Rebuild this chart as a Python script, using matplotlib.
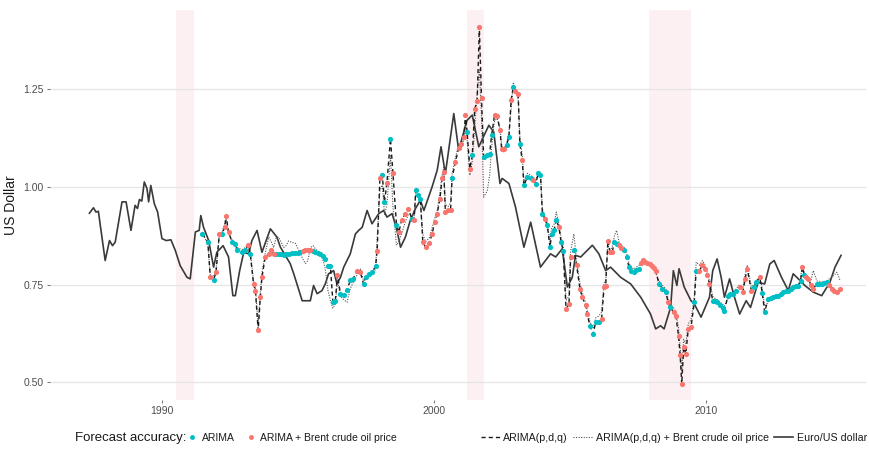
import numpy as np
import matplotlib.pyplot as plt
from matplotlib.lines import Line2D

plt.rcParams['font.family'] = ['Liberation Sans', 'DejaVu Sans']

# Euro/US dollar exchange rate (decimal year, USD)
euro_year = [1987.32, 1987.47, 1987.56, 1987.65, 1987.90, 1988.06, 1988.17, 1988.27, 1988.52, 1988.67,
             1988.85, 1989.00, 1989.09, 1989.16, 1989.25, 1989.34, 1989.44, 1989.50, 1989.58, 1989.71,
             1989.83, 1989.99, 1990.15, 1990.32, 1990.48, 1990.66, 1990.91, 1991.03, 1991.22, 1991.36,
             1991.42, 1991.52, 1991.71, 1991.89, 1992.01, 1992.24, 1992.44, 1992.60, 1992.69, 1992.85,
             1993.00, 1993.18, 1993.30, 1993.49, 1993.67, 1993.98, 1994.22, 1994.35, 1994.71, 1994.84,
             1995.15, 1995.45, 1995.57, 1995.70, 1995.88, 1996.00, 1996.12, 1996.31, 1996.43, 1996.56,
             1996.68, 1996.92, 1997.11, 1997.23, 1997.36, 1997.54, 1997.72, 1997.97, 1998.15, 1998.27,
             1998.46, 1998.64, 1998.77, 1998.95, 1999.13, 1999.32, 1999.50, 1999.63, 1999.93, 2000.12,
             2000.26, 2000.42, 2000.73, 2000.91, 2001.22, 2001.41, 2001.65, 2002.02, 2002.20, 2002.43,
             2002.51, 2002.76, 2003.00, 2003.31, 2003.56, 2003.92, 2004.29, 2004.48, 2004.72, 2004.91,
             2005.09, 2005.21, 2005.40, 2005.83, 2006.07, 2006.32, 2006.50, 2006.87, 2007.24, 2007.61,
             2007.97, 2008.16, 2008.34, 2008.47, 2008.71, 2008.81, 2008.94, 2009.02, 2009.21, 2009.46,
             2009.58, 2009.83, 2010.14, 2010.26, 2010.42, 2010.57, 2010.69, 2010.88, 2011.06, 2011.25,
             2011.49, 2011.65, 2011.93, 2012.17, 2012.36, 2012.52, 2012.79, 2013.04, 2013.22, 2013.41,
             2013.65, 2013.96, 2014.27, 2014.57, 2014.76, 2014.98]
euro_usd = [0.933, 0.947, 0.936, 0.938, 0.812, 0.863, 0.850, 0.859, 0.962, 0.962,
            0.889, 0.953, 0.945, 0.968, 0.964, 1.013, 0.996, 0.962, 1.004, 0.957,
            0.936, 0.868, 0.863, 0.865, 0.838, 0.799, 0.769, 0.765, 0.885, 0.889,
            0.927, 0.897, 0.863, 0.795, 0.833, 0.850, 0.821, 0.722, 0.722, 0.786,
            0.833, 0.829, 0.863, 0.889, 0.833, 0.893, 0.872, 0.846, 0.804, 0.778,
            0.709, 0.709, 0.748, 0.727, 0.735, 0.752, 0.778, 0.786, 0.752, 0.769,
            0.795, 0.829, 0.880, 0.889, 0.897, 0.940, 0.906, 0.932, 0.940, 0.923,
            0.932, 0.889, 0.846, 0.872, 0.915, 0.945, 0.966, 0.940, 1.000, 1.043,
            1.103, 1.034, 1.188, 1.094, 1.171, 1.184, 1.103, 1.158, 1.141, 1.009,
            1.022, 1.009, 0.949, 0.846, 0.910, 0.795, 0.829, 0.821, 0.842, 0.744,
            0.769, 0.825, 0.821, 0.851, 0.829, 0.786, 0.795, 0.769, 0.752, 0.718,
            0.675, 0.637, 0.645, 0.637, 0.692, 0.786, 0.748, 0.791, 0.744, 0.709,
            0.701, 0.667, 0.718, 0.786, 0.816, 0.769, 0.718, 0.765, 0.718, 0.675,
            0.709, 0.692, 0.756, 0.752, 0.803, 0.812, 0.769, 0.735, 0.778, 0.765,
            0.748, 0.731, 0.722, 0.756, 0.795, 0.825]

# forecasts: dates, ARIMA(p,d,q), ARIMA(p,d,q) + Brent, and which model was more accurate
fc_year = [1991.48, 1991.68, 1991.77, 1991.89, 1991.98, 1992.10, 1992.20, 1992.30, 1992.35, 1992.44,
           1992.57, 1992.69, 1992.75, 1992.94, 1993.06, 1993.16, 1993.24, 1993.36, 1993.43, 1993.53,
           1993.61, 1993.67, 1993.79, 1993.92, 1994.01, 1994.10, 1994.19, 1994.28, 1994.37, 1994.47,
           1994.56, 1994.65, 1994.78, 1994.90, 1995.00, 1995.08, 1995.18, 1995.27, 1995.36, 1995.45,
           1995.55, 1995.64, 1995.73, 1995.82, 1995.91, 1996.00, 1996.10, 1996.19, 1996.28, 1996.37,
           1996.45, 1996.56, 1996.68, 1996.80, 1996.92, 1997.02, 1997.17, 1997.29, 1997.41, 1997.50,
           1997.60, 1997.72, 1997.85, 1997.91, 1998.01, 1998.10, 1998.18, 1998.27, 1998.40, 1998.49,
           1998.62, 1998.71, 1998.81, 1998.94, 1999.06, 1999.18, 1999.27, 1999.33, 1999.43, 1999.50,
           1999.59, 1999.69, 1999.83, 1999.93, 2000.03, 2000.12, 2000.22, 2000.30, 2000.36, 2000.42,
           2000.52, 2000.61, 2000.67, 2000.79, 2000.91, 2001.00, 2001.10, 2001.16, 2001.22, 2001.32,
           2001.41, 2001.50, 2001.59, 2001.67, 2001.75, 2001.83, 2001.96, 2002.05, 2002.12, 2002.23,
           2002.33, 2002.43, 2002.49, 2002.57, 2002.67, 2002.76, 2002.84, 2002.92, 2003.00, 2003.10,
           2003.16, 2003.25, 2003.31, 2003.44, 2003.56, 2003.66, 2003.75, 2003.84, 2003.92, 2003.99,
           2004.08, 2004.17, 2004.27, 2004.33, 2004.42, 2004.50, 2004.60, 2004.68, 2004.76, 2004.86,
           2004.97, 2005.03, 2005.15, 2005.25, 2005.37, 2005.46, 2005.58, 2005.64, 2005.74, 2005.86,
           2005.95, 2006.07, 2006.17, 2006.26, 2006.32, 2006.40, 2006.48, 2006.56, 2006.64, 2006.72,
           2006.81, 2006.90, 2007.00, 2007.09, 2007.18, 2007.27, 2007.36, 2007.45, 2007.55, 2007.63,
           2007.71, 2007.78, 2007.85, 2007.95, 2008.04, 2008.10, 2008.16, 2008.28, 2008.41, 2008.53,
           2008.62, 2008.69, 2008.82, 2008.90, 2009.00, 2009.06, 2009.12, 2009.19, 2009.27, 2009.36,
           2009.46, 2009.58, 2009.65, 2009.77, 2009.88, 2009.98, 2010.06, 2010.14, 2010.26, 2010.34,
           2010.42, 2010.54, 2010.62, 2010.69, 2010.82, 2010.90, 2011.00, 2011.12, 2011.25, 2011.37,
           2011.45, 2011.53, 2011.68, 2011.78, 2011.86, 2011.99, 2012.08, 2012.17, 2012.30, 2012.39,
           2012.48, 2012.58, 2012.67, 2012.76, 2012.85, 2012.95, 2013.04, 2013.13, 2013.22, 2013.31,
           2013.41, 2013.49, 2013.56, 2013.63, 2013.70, 2013.78, 2013.87, 2013.96, 2014.09, 2014.18,
           2014.27, 2014.37, 2014.46, 2014.55, 2014.64, 2014.73, 2014.83, 2014.95]
fc_arima = [0.880, 0.859, 0.769, 0.763, 0.782, 0.880, 0.880, 0.897, 0.927, 0.885,
            0.859, 0.855, 0.838, 0.833, 0.838, 0.851, 0.829, 0.752, 0.735, 0.633,
            0.718, 0.769, 0.821, 0.829, 0.838, 0.829, 0.829, 0.829, 0.828, 0.827,
            0.828, 0.829, 0.830, 0.831, 0.832, 0.833, 0.836, 0.838, 0.839, 0.840,
            0.836, 0.833, 0.831, 0.829, 0.823, 0.816, 0.799, 0.797, 0.705, 0.709,
            0.774, 0.727, 0.724, 0.737, 0.761, 0.765, 0.784, 0.782, 0.752, 0.771,
            0.778, 0.782, 0.797, 0.836, 1.022, 1.030, 0.962, 1.011, 1.124, 1.036,
            0.904, 0.885, 0.915, 0.932, 0.945, 0.919, 0.915, 0.992, 0.979, 0.970,
            0.859, 0.846, 0.856, 0.880, 0.910, 0.932, 0.970, 1.022, 1.039, 0.936,
            0.940, 0.940, 1.024, 1.064, 1.100, 1.110, 1.128, 1.184, 1.141, 1.047,
            1.081, 1.200, 1.220, 1.410, 1.227, 1.077, 1.081, 1.085, 1.132, 1.184,
            1.181, 1.145, 1.098, 1.098, 1.107, 1.128, 1.222, 1.256, 1.245, 1.237,
            1.111, 1.068, 1.004, 1.026, 1.022, 1.017, 1.009, 1.036, 1.032, 0.932,
            0.919, 0.902, 0.846, 0.880, 0.889, 0.916, 0.897, 0.859, 0.836, 0.688,
            0.701, 0.821, 0.838, 0.800, 0.740, 0.718, 0.697, 0.675, 0.645, 0.624,
            0.654, 0.654, 0.662, 0.744, 0.748, 0.863, 0.833, 0.833, 0.860, 0.855,
            0.851, 0.845, 0.838, 0.820, 0.795, 0.785, 0.782, 0.788, 0.791, 0.805,
            0.812, 0.808, 0.805, 0.802, 0.799, 0.792, 0.786, 0.752, 0.740, 0.731,
            0.705, 0.692, 0.680, 0.671, 0.620, 0.569, 0.496, 0.590, 0.573, 0.637,
            0.641, 0.705, 0.786, 0.786, 0.800, 0.791, 0.775, 0.752, 0.709, 0.708,
            0.705, 0.697, 0.690, 0.684, 0.722, 0.725, 0.727, 0.735, 0.744, 0.731,
            0.765, 0.791, 0.735, 0.745, 0.756, 0.769, 0.730, 0.680, 0.714, 0.716,
            0.718, 0.720, 0.722, 0.727, 0.731, 0.733, 0.735, 0.740, 0.744, 0.746,
            0.748, 0.760, 0.795, 0.774, 0.770, 0.765, 0.750, 0.740, 0.752, 0.752,
            0.752, 0.754, 0.756, 0.750, 0.740, 0.735, 0.731, 0.740]
fc_brent = [0.885, 0.850, 0.775, 0.770, 0.790, 0.875, 0.885, 0.905, 0.920, 0.880,
            0.865, 0.850, 0.845, 0.840, 0.845, 0.855, 0.835, 0.760, 0.745, 0.645,
            0.730, 0.780, 0.830, 0.872, 0.860, 0.845, 0.870, 0.872, 0.860, 0.845,
            0.850, 0.862, 0.858, 0.856, 0.842, 0.830, 0.815, 0.804, 0.812, 0.845,
            0.850, 0.842, 0.836, 0.832, 0.815, 0.790, 0.735, 0.709, 0.690, 0.700,
            0.760, 0.720, 0.712, 0.705, 0.740, 0.755, 0.775, 0.790, 0.760, 0.765,
            0.770, 0.775, 0.790, 0.870, 0.990, 1.005, 0.930, 0.955, 1.080, 0.950,
            0.851, 0.860, 0.880, 0.910, 0.930, 0.930, 0.925, 0.985, 0.975, 0.960,
            0.880, 0.860, 0.870, 0.895, 0.920, 0.940, 0.985, 1.030, 1.050, 0.955,
            0.950, 0.960, 1.035, 1.075, 1.110, 1.095, 1.120, 1.170, 1.120, 1.030,
            1.065, 1.150, 1.240, 1.300, 1.180, 0.974, 0.990, 1.030, 1.100, 1.170,
            1.175, 1.150, 1.110, 1.090, 1.110, 1.140, 1.200, 1.268, 1.250, 1.225,
            1.130, 1.080, 1.015, 1.035, 1.030, 1.025, 1.015, 1.040, 1.035, 0.945,
            0.925, 0.910, 0.860, 0.895, 0.905, 0.936, 0.905, 0.870, 0.850, 0.710,
            0.720, 0.835, 0.880, 0.810, 0.755, 0.730, 0.705, 0.685, 0.655, 0.640,
            0.665, 0.670, 0.680, 0.755, 0.760, 0.850, 0.840, 0.845, 0.875, 0.889,
            0.860, 0.850, 0.845, 0.830, 0.805, 0.795, 0.790, 0.795, 0.800, 0.810,
            0.815, 0.812, 0.808, 0.800, 0.795, 0.790, 0.780, 0.760, 0.748, 0.740,
            0.712, 0.700, 0.690, 0.680, 0.640, 0.590, 0.530, 0.610, 0.600, 0.650,
            0.660, 0.720, 0.808, 0.800, 0.812, 0.800, 0.780, 0.760, 0.720, 0.715,
            0.712, 0.705, 0.700, 0.695, 0.715, 0.720, 0.725, 0.740, 0.750, 0.740,
            0.775, 0.800, 0.745, 0.750, 0.760, 0.772, 0.740, 0.695, 0.705, 0.712,
            0.715, 0.716, 0.720, 0.724, 0.728, 0.730, 0.733, 0.738, 0.742, 0.745,
            0.750, 0.765, 0.800, 0.780, 0.775, 0.770, 0.760, 0.786, 0.760, 0.758,
            0.757, 0.758, 0.760, 0.765, 0.770, 0.775, 0.782, 0.760]
better = ['c', 'c', 'r', 'c', 'r', 'r', 'c', 'r', 'r', 'r',
          'c', 'c', 'c', 'c', 'c', 'r', 'c', 'r', 'r', 'r',
          'r', 'r', 'r', 'r', 'r', 'r', 'c', 'c', 'c', 'c',
          'c', 'c', 'c', 'c', 'c', 'c', 'r', 'r', 'r', 'r',
          'c', 'c', 'c', 'c', 'c', 'c', 'c', 'c', 'c', 'c',
          'r', 'c', 'c', 'c', 'c', 'c', 'r', 'r', 'c', 'c',
          'c', 'c', 'c', 'r', 'r', 'c', 'c', 'r', 'c', 'r',
          'c', 'r', 'r', 'r', 'r', 'c', 'r', 'c', 'c', 'c',
          'r', 'r', 'r', 'r', 'r', 'r', 'r', 'r', 'r', 'r',
          'r', 'r', 'c', 'r', 'r', 'r', 'r', 'r', 'c', 'r',
          'c', 'r', 'r', 'r', 'r', 'c', 'c', 'c', 'c', 'r',
          'r', 'r', 'r', 'r', 'c', 'c', 'r', 'c', 'r', 'r',
          'c', 'r', 'c', 'c', 'c', 'r', 'c', 'c', 'c', 'c',
          'r', 'c', 'c', 'c', 'c', 'c', 'r', 'c', 'c', 'r',
          'r', 'r', 'c', 'r', 'r', 'r', 'r', 'r', 'c', 'c',
          'c', 'c', 'r', 'r', 'r', 'r', 'r', 'r', 'c', 'c',
          'r', 'r', 'c', 'c', 'c', 'c', 'c', 'c', 'c', 'r',
          'r', 'r', 'r', 'r', 'r', 'r', 'r', 'c', 'c', 'c',
          'r', 'c', 'r', 'r', 'r', 'r', 'r', 'r', 'r', 'r',
          'r', 'c', 'c', 'r', 'r', 'r', 'r', 'r', 'c', 'c',
          'c', 'c', 'c', 'c', 'c', 'c', 'c', 'c', 'r', 'r',
          'r', 'r', 'r', 'c', 'c', 'r', 'c', 'c', 'c', 'c',
          'c', 'c', 'c', 'c', 'c', 'c', 'c', 'c', 'c', 'c',
          'c', 'c', 'r', 'c', 'r', 'r', 'r', 'r', 'c', 'c',
          'c', 'c', 'c', 'r', 'r', 'r', 'r', 'r']

# NBER recession periods
recessions = [(1990.50, 1991.17), (2001.20, 2001.85), (2007.92, 2009.45)]

col_arima = '#00BFC4'
col_brent = '#F8766D'

fig = plt.figure(figsize=(8.69, 4.54), dpi=100)
ax = fig.add_axes([50 / 869, 1 - 400 / 454, 816 / 869, 390 / 454])

for start, end in recessions:
    ax.axvspan(start, end, color='#fdf0f2', lw=0, zorder=0)

ax.plot(euro_year, euro_usd, color='#3a3a3a', lw=1.2, zorder=2)
ax.plot(fc_year, fc_brent, color='#555555', lw=0.8, ls=(0, (1, 1.3)), zorder=2)
ax.plot(fc_year, fc_arima, color='#1a1a1a', lw=1.0, ls=(0, (3, 2.2)), zorder=3)

fc_x = np.array(fc_year)
fc_y = np.array(fc_arima)
mask_c = np.array([b == 'c' for b in better])
ax.scatter(fc_x[mask_c], fc_y[mask_c], s=14, color=col_arima, lw=0, zorder=4)
ax.scatter(fc_x[~mask_c], fc_y[~mask_c], s=14, color=col_brent, lw=0, zorder=4)

ax.set_xlim(1985.87, 2015.9)
ax.set_ylim(0.455, 1.453)
ax.set_yticks([0.50, 0.75, 1.00, 1.25])
ax.set_yticklabels(['0.50', '0.75', '1.00', '1.25'])
ax.set_xticks([1990, 2000, 2010])
ax.yaxis.grid(True, color='#e6e6e6', lw=1.0)
ax.set_axisbelow(True)
for s in ax.spines.values():
    s.set_visible(False)
ax.tick_params(axis='both', colors='#7a7a7a', labelcolor='#4d4d4d', labelsize=7.5,
               length=2.5, width=0.8, pad=2)
ax.set_ylabel('US Dollar', fontsize=10, color='#1a1a1a', labelpad=4)

# legend row along the bottom
fig.text(75 / 869, 1 - 438 / 454, 'Forecast accuracy:', fontsize=9.5, color='#1a1a1a',
         va='center', ha='left')
pts = [Line2D([], [], ls='none', marker='o', ms=3.5, mec='none', color=col_arima),
       Line2D([], [], ls='none', marker='o', ms=3.5, mec='none', color=col_brent)]
leg1 = fig.legend(pts, ['ARIMA', 'ARIMA + Brent crude oil price'], loc='center left',
                  bbox_to_anchor=(188 / 869, 1 - 438 / 454), ncol=2, frameon=False,
                  fontsize=7.5, handlelength=0.8, handletextpad=0.5, columnspacing=1.2,
                  borderaxespad=0, borderpad=0)
lines = [Line2D([], [], color='#1a1a1a', lw=1.0, ls=(0, (3, 2.2))),
         Line2D([], [], color='#555555', lw=0.8, ls=(0, (1, 1.3))),
         Line2D([], [], color='#3a3a3a', lw=1.2)]
leg2 = fig.legend(lines, ['ARIMA(p,d,q)', 'ARIMA(p,d,q) + Brent crude oil price', 'Euro/US dollar'],
                  loc='center left', bbox_to_anchor=(481 / 869, 1 - 438 / 454), ncol=3,
                  frameon=False, fontsize=7.7, handlelength=1.8, handletextpad=0.3,
                  columnspacing=0.5, borderaxespad=0, borderpad=0)
for leg in (leg1, leg2):
    for t in leg.get_texts():
        t.set_color('#1a1a1a')

fig.savefig('out.png', dpi=100)
